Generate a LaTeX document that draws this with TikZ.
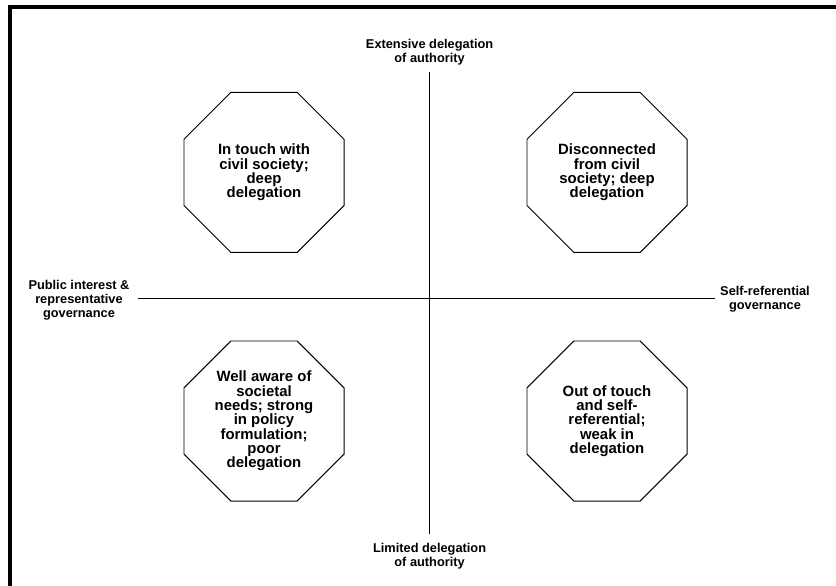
\documentclass[tikz,border=0pt]{standalone}
\usepackage{fontspec}
\setmainfont{Liberation Sans}
\usepackage{tikz}
\usetikzlibrary{shapes.geometric}

\begin{document}
\begin{tikzpicture}[y=-1cm,
  quadrant/.style={draw=black,line width=0.7pt,regular polygon,regular polygon sides=8,
    minimum size=4.33cm,inner sep=0pt,align=center,text=black,
    font=\fontsize{10.6}{10.2}\selectfont\bfseries},
  axislabel/.style={text=black,align=center,inner sep=0pt,
    font=\fontsize{9.1}{10}\selectfont\bfseries}]

\useasboundingbox (0,0) rectangle (20.9,14.625);

% frame:
\draw[black,line width=2.2pt] (0.25,0.175) rectangle (21.5,15.3);

% axes:
\coordinate (north) at (10.74,1.8);
\coordinate (south) at (10.74,13.35);
\coordinate (west) at (3.45,7.45);
\coordinate (east) at (17.875,7.45);
\draw[black,line width=0.7pt] (north) -- (south);
\draw[black,line width=0.7pt] (west) -- (east);

\path (10.74,1.3) node[axislabel] (extensive) {Extensive delegation\\of authority};
\path (10.74,13.91) node[axislabel] (limited) {Limited delegation\\of authority};
\path (1.975,7.5) node[axislabel] (public) {Public interest \&\\representative\\governance};
\path (19.125,7.475) node[axislabel] (selfref) {Self-referential\\governance};

% quadrants:
\path (6.6,4.31) node[quadrant] (intouch) {In touch with\\civil society;\\deep\\delegation};
\path (15.175,4.31) node[quadrant] (disconnected) {Disconnected\\from civil\\society; deep\\delegation};
\path (6.6,10.525) node[quadrant] (wellaware) {Well aware of\\societal\\needs; strong\\in policy\\formulation;\\poor\\delegation};
\path (15.175,10.525) node[quadrant] (outoftouch) {Out of touch\\and self-\\referential;\\weak in\\delegation};

\end{tikzpicture}
\end{document}
